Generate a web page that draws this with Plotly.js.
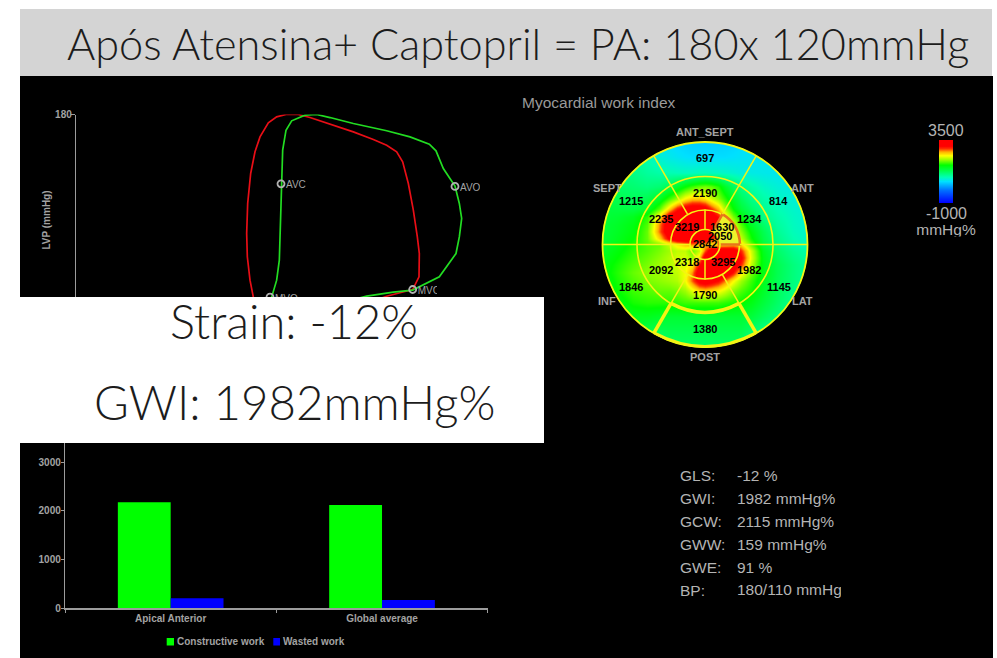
<!DOCTYPE html>
<html><head><meta charset="utf-8">
<script src="https://cdn.plot.ly/plotly-3.0.1.min.js"></script>
<style>html,body{margin:0;padding:0;background:#fff}#c{width:997px;height:658px}</style>
</head><body><div id="c"></div>
<script>
// ---- data ----
const titleText = "Após Atensina+ Captopril = PA: 180x 120mmHg";
const boxLines = ["Strain: -12%", "GWI: 1982mmHg%"];

// pressure-strain loops: x = segment length (arbitrary units), y = LVP mmHg
const redLoopX = [70,69,68.2,68,68.3,69.2,70.5,72,74.5,77,79.8,83.5,87,93,100,106,110,113,114.8,116.5,118,119.2,119.8,119.7,117.8,114,110,105,95,85,75,71,70];
const redLoopY = [24.2,38.7,58.6,78.5,104.1,129.7,148.2,160.9,172.9,178,180,180,177.4,171.8,165.2,158.7,153.8,148.2,139.6,121.1,98.4,75.6,61.4,41.5,30.7,27.9,25,20,14,12,14,20,24.2];
const greenLoopX = [75.5,77,77.8,78.2,78.5,78.8,79.8,81.5,85.5,89,93,100,110,117,122.8,124.8,127,130.5,131.8,132.5,131.8,130.8,125.8,117.8,112,104,100,90,80,76,75.5];
const greenLoopY = [24.2,38.7,55.7,87,121.1,149.6,166.6,174.6,179.4,180,177.4,172.3,166.1,160.9,154.7,149,133.9,118.9,104.1,91.3,75.6,61.4,41.5,30.2,28.4,25,22.2,16,14,20,24.2];
const valveNames = ["AVC","AVO","MVC","MVO"];
const valveX = [78.3,130.5,117.8,75];
const valveY = [120.9,118.6,30.7,24.2];

// bar chart
const barCategories = ["Apical Anterior","Global average"];
const constructiveWork = [2178,2120];
const wastedWork = [205,170];
const legendNames = ["Constructive work","Wasted work"];

// bullseye
const segmentValues = ["697","2190","1215","814","2235","1234","3219","1630","2050","2842","2318","3295","2092","1982","1846","1145","1790","1380"];
const wallNames = ["ANT_SEPT","SEPT","ANT","INF","LAT","POST"];
const scaleMax = 3500, scaleMin = -1000;
const gridX = [-104,-88,-72,-58,-46,-36,-28,-20,-13,-6,0,6,13,20,28,36,46,58,72,88,104];
const gridY = gridX.slice();
const rowM104 = [1200,1200,1200,1200,1200,1200,1200,1200,1200,1200,1200,1200,1200,1200,1200,1200,1000,900,800,750,700];
const rowM88  = [1250,1300,1350,1300,1250,1300,1300,1300,1300,1300,1300,1300,1300,1300,1300,1300,1150,1000,900,800,750];
const rowM72  = [1350,1450,1550,1550,1500,1450,1450,1450,1450,1450,1450,1450,1450,1450,1450,1450,1400,1250,1100,950,800];
const rowM58  = [1400,1600,1750,1800,1800,1800,1800,1850,1850,1850,1850,1850,1850,1800,1750,1700,1600,1400,1200,1000,850];
const rowM46  = [1500,1700,1850,1900,1950,1950,2000,2100,2300,2500,2550,2500,2400,2250,2050,1900,1750,1500,1250,1050,900];
const rowM36  = [1550,1750,1900,2000,2050,2100,2150,2350,2800,3200,3300,3200,3050,2750,2400,2100,1850,1550,1280,1100,950];
const rowM28  = [1600,1780,1950,2050,2100,2150,2200,2350,2700,3300,3450,3450,3450,3400,3000,2450,2000,1600,1300,1100,950];
const rowM20  = [1600,1750,1900,2000,2100,2150,2250,2300,2450,3000,3400,3450,3450,3450,3400,2900,2200,1600,1300,1100,950];
const rowM13  = [1550,1700,1850,1950,2050,2150,2250,2250,2100,2500,3300,3450,3450,3450,3450,3100,2300,1600,1250,1050,920];
const rowM6   = [1500,1650,1800,1900,2000,2100,2200,2200,1950,2200,2800,3300,3400,3450,3300,2900,2250,1550,1200,1000,880];
const row0    = [1450,1600,1750,1900,1950,2200,2450,2600,2700,2600,2600,2500,2500,2500,2600,2500,1950,1400,1100,900,800];
const rowP6   = [1420,1550,1700,1950,2500,3100,3350,3400,3400,3300,3200,2900,2600,2500,2450,2200,1750,1350,1050,860,760];
const rowP13  = [1420,1520,1650,1950,2750,3350,3450,3450,3450,3450,3450,3300,3000,2700,2400,2050,1650,1300,1000,820,740];
const rowP20  = [1420,1500,1620,1900,2700,3350,3450,3450,3450,3450,3450,3400,3100,2700,2300,1900,1500,1200,950,800,720];
const rowP28  = [1400,1450,1550,1800,2450,3200,3400,3400,3400,3400,3400,3300,3000,2500,2000,1650,1350,1050,900,780,700];
const rowP36  = [1400,1380,1350,1450,1900,2500,2950,3200,3300,3300,3200,2900,2600,2100,1700,1400,1200,1000,850,750,680];
const rowP46  = [1350,1300,1250,1300,1500,1850,2100,2400,2550,2550,2450,2250,2050,1800,1500,1250,1050,900,780,700,650];
const rowP58  = [1250,1200,1150,1100,1150,1300,1500,1700,1850,1950,2000,1950,1800,1500,1250,1050,900,780,700,650,620];
const rowP72  = [1100,1100,1050,950,900,850,820,800,800,820,820,800,780,760,720,680,640,620,600,600,600];
const rowP88  = [1000,1000,950,850,700,620,580,540,520,520,520,520,520,520,540,560,580,600,600,600,600];
const rowP104 = [900,900,900,800,620,520,460,440,420,420,420,420,420,440,460,500,560,600,600,600,600];
const bullseyeZ = [rowM104,rowM88,rowM72,rowM58,rowM46,rowM36,rowM28,rowM20,rowM13,rowM6,row0,rowP6,rowP13,rowP20,rowP28,rowP36,rowP46,rowP58,rowP72,rowP88,rowP104];

// summary block
const statNames = ["GLS:","GWI:","GCW:","GWW:","GWE:","BP:"];
const statValues = ["-12 %","1982 mmHg%","2115 mmHg%","159 mmHg%","91 %","180/110 mmHg"];

// ---- layout constants (pixels of the 997x658 page) ----
const W = 997, H = 658;
const px = x => x / W, py = y => 1 - y / H;
const GRAY = "#a3a3a3", AXISGRAY = "#9c9c9c", ARIAL = "Liberation Sans, Arial, sans-serif";
const YEL = "#f4f414";
const BE = {cx:705, cy:244.5, half:104};
const segPos = [[705,158.3],[705,192.7],[631,201],[778.7,201],[660.7,218.7],[749.3,218.7],[687.3,226.7],[721.7,226.7],[720,235.7],[705,244.3],[687,262.3],[723.3,262.3],[660.7,269.7],[749.3,269.7],[631,286.7],[778.7,286.7],[705,295],[705,329.3]];
const wallPos = [[705,131.7],[607.7,188.3],[802.7,188.3],[607.3,301],[802.7,301],[705,357.3]];
const statY = [475,498,521,544,567,590];
const labelDrop = 1.7, labelShift = 1.5; // valve labels sit beside and slightly under their rings

const colorscale = [[0,"#0000ff"],[0.2,"#0070ff"],[0.34,"#00e0ff"],[0.41,"#00ffb4"],[0.51,"#00ff50"],[0.60,"#00ff00"],[0.68,"#90ff00"],[0.75,"#ffff00"],[0.81,"#ffb000"],[0.86,"#ff3000"],[0.90,"#ff0000"],[1,"#ff0000"]];

const traces = [
  {type:"heatmap", x:gridX, y:gridY, z:bullseyeZ, xaxis:"x3", yaxis:"y3", zmin:scaleMin, zmax:scaleMax, zsmooth:"best",
   colorscale, hoverinfo:"skip", showscale:true,
   colorbar:{xref:"container", yref:"container", x:939/W, xanchor:"left", y:1-140/H, yanchor:"top",
     thickness:14, thicknessmode:"pixels", len:63, lenmode:"pixels", outlinewidth:0, borderwidth:0, xpad:0, ypad:0, ticks:"", showticklabels:false}},
  {type:"scatter", mode:"lines", x:redLoopX, y:redLoopY, line:{color:"#e80e16", width:1.7}, hoverinfo:"skip", showlegend:false},
  {type:"scatter", mode:"lines", x:greenLoopX, y:greenLoopY, line:{color:"#22dc22", width:1.7}, hoverinfo:"skip", showlegend:false},
  {type:"scatter", mode:"markers", x:valveX, y:valveY, marker:{size:7, color:"rgba(0,0,0,0)", line:{color:"#b0b0b0", width:1.8}}, hoverinfo:"skip", showlegend:false},
  {type:"scatter", mode:"text", x:valveX.map(v=>v+labelShift), y:valveY.map(v=>v-labelDrop), text:valveNames, textposition:"middle right", cliponaxis:false,
   textfont:{family:ARIAL, size:10, color:GRAY}, hoverinfo:"skip", showlegend:false},
  {type:"bar", name:legendNames[0], x:barCategories, y:constructiveWork, xaxis:"x2", yaxis:"y2", marker:{color:"#00ff00"}, hoverinfo:"skip"},
  {type:"bar", name:legendNames[1], x:barCategories, y:wastedWork, xaxis:"x2", yaxis:"y2", marker:{color:"#0000ff"}, hoverinfo:"skip"},
  // texts that the original crops: drawn as trace text so that a mask can cut them
  {type:"scatter", mode:"text", xaxis:"x4", yaxis:"y4", x:[946,737], y:[231,591], text:["mmHg%",statValues[5]],
   textposition:["middle center","middle right"], textfont:{family:ARIAL, size:[15.5,15.5], color:["#b4b4b4","#b4b4b4"]}, cliponaxis:false, hoverinfo:"skip", showlegend:false}
];

const axisHidden = {visible:false, fixedrange:true, showgrid:false, zeroline:false};
const rect = (x0,y0,x1,y1,color,layer) => ({type:"rect", xref:"paper", yref:"paper", x0:px(x0), x1:px(x1), y0:py(y0), y1:py(y1), fillcolor:color, line:{width:0}, layer:layer||"above"});
const beShape = o => Object.assign({xref:"x3", yref:"y3", layer:"above", line:{color:YEL, width:1.5}}, o);
const circle = (r,lw,col) => beShape({type:"circle", x0:-r, x1:r, y0:-r, y1:r, line:{color:col||YEL, width:lw}});
const seg = (ang,r0,r1,lw) => {const a=ang*Math.PI/180; return beShape({type:"line", x0:r0*Math.cos(a), y0:r0*Math.sin(a), x1:r1*Math.cos(a), y1:r1*Math.sin(a), line:{color:YEL, width:lw||1.5}});};
const RM = 128; // circular window of the bullseye, cut by a thick black ring

const shapes = [
  rect(20,76,993,658,"#000000","below"),
  rect(20,9,992,76,"#d4d4d4","below"),
  {type:"circle", xref:"paper", yref:"paper", x0:px(BE.cx-RM), x1:px(BE.cx+RM), y0:py(BE.cy+RM), y1:py(BE.cy-RM), layer:"above", line:{color:"#000000", width:50}},
  circle(102.5,1.8), circle(68,1.6), circle(34.5,1.6),
  beShape({type:"path", path:"M 7,12.1 L 17.5,30.3 Q 34.35,19.85 35,0 L 14,0 Q 13.7,7.95 7,12.1 Z", fillcolor:"#eef02a", line:{color:"#e8751a", width:2.6}}),
  circle(15,1.6),
  seg(180,15,102), seg(0,35,102), seg(60,35,102), seg(120,35,102), seg(-60,35,68), seg(-120,35,68),
  seg(90,15,35), seg(-90,15,35),
  seg(-60,68,102,3.5), seg(-120,68,102,3.5),
  beShape({type:"path", path:"M -34,-58.9 Q 0,-77.1 34,-58.9", line:{color:YEL, width:3.5}}),
  beShape({type:"path", path:"M -51,-88.3 Q 0,-115.7 51,-88.3", line:{color:YEL, width:3}}),
  // crops of the original screenshot
  rect(437,280,450,297,"#000000"),
  rect(480,170,492,195,"#000000"),
  rect(915,236.5,985,246,"#000000"),
  rect(841,580,860,600,"#000000"),
  // pasted white box
  rect(20,297,544,443,"#ffffff"),
  // legend swatches
  rect(166.7,638,174,645.5,"#00ff00"),
  rect(273.3,638,280,645.5,"#0000ff")
];

const ann = (t,x,y,o) => Object.assign({text:t, x:px(x), y:py(y), xref:"paper", yref:"paper", xanchor:"center", yanchor:"middle", showarrow:false, font:{family:ARIAL, size:10, color:GRAY}}, o||{});
const LIGHT = (s) => ({family:"Lato, sans-serif", size:s, weight:300, color:"#1c1c1c"});
const annotations = [
  ann(titleText,518,43,{font:LIGHT(43.3)}),
  ann(boxLines[0],294,321,{font:LIGHT(47)}),
  ann(boxLines[1],294.5,402,{font:LIGHT(47.4)}),
  ann("Myocardial work index",520,103,{xanchor:"left", font:{family:ARIAL, size:15.5, color:"#9a9a9a"}}),
  ann(String(scaleMax),946,130,{font:{family:ARIAL, size:16, color:"#b4b4b4"}}),
  ann(String(scaleMin),946,213,{font:{family:ARIAL, size:16, color:"#b4b4b4"}}),
  ann(legendNames[0],175,641.5,{xanchor:"left", font:{family:ARIAL, size:10, weight:700, color:GRAY}}),
  ann(legendNames[1],281,641.5,{xanchor:"left", font:{family:ARIAL, size:10, weight:700, color:GRAY}})
];
segmentValues.forEach((v,i)=>annotations.push(ann(v,segPos[i][0],segPos[i][1],{font:{family:ARIAL, size:11, weight:700, color:"#000000"}})));
wallNames.forEach((v,i)=>annotations.push(ann(v,wallPos[i][0],wallPos[i][1],{font:{family:ARIAL, size:11, weight:700, color:GRAY}})));
statNames.forEach((v,i)=>annotations.push(ann(v,678,statY[i],{xanchor:"left", font:{family:ARIAL, size:15.5, color:"#b4b4b4"}})));
statValues.slice(0,5).forEach((v,i)=>annotations.push(ann(v,735,statY[i],{xanchor:"left", font:{family:ARIAL, size:15.5, color:"#b4b4b4"}})));

const layout = {
  width:W, height:H, margin:{l:0,r:0,t:0,b:0,pad:0,autoexpand:false},
  paper_bgcolor:"#ffffff", plot_bgcolor:"rgba(0,0,0,0)", showlegend:false,
  barmode:"group", bargap:0.5, bargroupgap:0,
  font:{family:ARIAL, color:GRAY},
  xaxis:Object.assign({domain:[px(76),px(500)], range:[16.8,144], anchor:"y"},axisHidden),
  yaxis:{domain:[py(325.5),py(114.5)], range:[0,180], anchor:"x", fixedrange:true, showgrid:false, zeroline:false, showline:true, linecolor:AXISGRAY, linewidth:1.2,
    tickvals:[0,180], ticks:"outside", ticklen:4, tickcolor:AXISGRAY, ticklabelstandoff:-3, tickfont:{family:ARIAL,size:10,weight:700,color:GRAY},
    title:{text:"LVP (mmHg)", standoff:2, font:{family:ARIAL,size:10,weight:700,color:GRAY}}},
  xaxis2:{domain:[px(65),px(487.7)], anchor:"y2", type:"category", fixedrange:true, showgrid:false, zeroline:false, showline:true, linecolor:AXISGRAY, linewidth:1.2,
    ticks:"outside", tickson:"boundaries", ticklen:3, tickcolor:AXISGRAY, tickfont:{family:ARIAL,size:10,weight:700,color:GRAY}},
  yaxis2:{domain:[py(608.3),py(443)], range:[0,3396], anchor:"x2", fixedrange:true, showgrid:false, zeroline:false, showline:true, linecolor:AXISGRAY, linewidth:1.2,
    tickvals:[0,1000,2000,3000], ticks:"outside", ticklen:3, tickcolor:AXISGRAY, ticklabelstandoff:-2, tickfont:{family:ARIAL,size:10,weight:700,color:GRAY}},
  xaxis3:Object.assign({domain:[px(BE.cx-BE.half),px(BE.cx+BE.half)], range:[-BE.half,BE.half], anchor:"y3"},axisHidden),
  yaxis3:Object.assign({domain:[py(BE.cy+BE.half),py(BE.cy-BE.half)], range:[-BE.half,BE.half], anchor:"x3"},axisHidden),
  xaxis4:Object.assign({domain:[0,1], range:[0,W], anchor:"y4"},axisHidden),
  yaxis4:Object.assign({domain:[0,1], range:[H,0], anchor:"x4"},axisHidden),
  shapes, annotations
};
Plotly.newPlot("c", traces, layout, {displayModeBar:false, staticPlot:true});
</script></body></html>
